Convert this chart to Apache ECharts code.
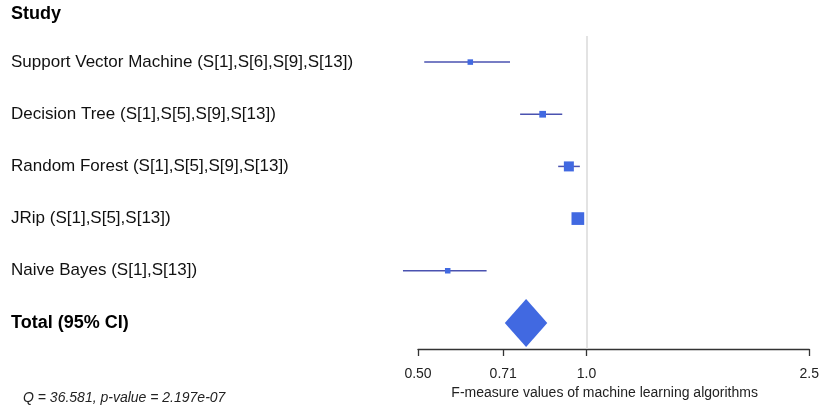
<!DOCTYPE html>
<html><head><meta charset="utf-8">
<script src="https://cdn.jsdelivr.net/npm/echarts@6/dist/echarts.min.js"></script>
<style>html,body{margin:0;padding:0;background:#fff}#c{width:822px;height:410px}</style>
</head><body><div id="c"></div>
<script>
const studies = ['Support Vector Machine (S[1],S[6],S[9],S[13])', 'Decision Tree (S[1],S[5],S[9],S[13])', 'Random Forest (S[1],S[5],S[9],S[13])', 'JRip (S[1],S[5],S[13])', 'Naive Bayes (S[1],S[13])'];
const estimates = [0.62, 0.835, 0.93, 0.965, 0.565];
const lower = [0.513, 0.761, 0.89, 0.945, 0.47];
const upper = [0.73, 0.905, 0.973, 0.985, 0.663];
const weights = [8.3, 12.3, 27.3, 44.0, 8.3];
const totalLabel = 'Total (95% CI)';
const totalEstimate = 0.78;
const totalLower = 0.7145;
const totalUpper = 0.851;
const tickValues = [0.5, 0.71, 1.0, 2.5];
const tickLabels = ['0.50', '0.71', '1.0', '2.5'];
const xTitle = 'F-measure values of machine learning algorithms';
const heterogeneity = 'Q = 36.581, p-value = 2.197e-07';
const headerLabel = 'Study';

const FONT = '"Liberation Sans", Arial, sans-serif';
const lnTicks = tickValues.map(v => Math.log(v));
const sizeK = 12.7 / Math.sqrt(44);

const chart = echarts.init(document.getElementById('c'), null, {renderer: 'canvas'});
chart.setOption({
  animation: false,
  textStyle: {fontFamily: FONT},
  title: {text: headerLabel, left: 6, top: 0, textStyle: {fontFamily: FONT, fontSize: 18, fontWeight: 'bold', color: '#000'}},
  grid: {left: 418, right: 12, top: 36, bottom: 61},
  xAxis: {
    type: 'value', min: Math.log(0.5), max: Math.log(2.5),
    splitLine: {show: false},
    axisLine: {show: true, onZero: false, lineStyle: {color: '#333', width: 1.3}},
    axisTick: {show: true, length: 7, customValues: lnTicks, lineStyle: {color: '#333', width: 1.3}},
    axisLabel: {
      customValues: lnTicks, fontSize: 14, color: '#222', margin: 18, fontFamily: FONT,
      formatter: v => { const i = lnTicks.findIndex(t => Math.abs(t - v) < 1e-6); return i >= 0 ? tickLabels[i] : ''; }
    },
    name: xTitle, nameLocation: 'middle', nameGap: 34,
    nameTextStyle: {fontSize: 14, color: '#222', fontFamily: FONT, padding: [0, 18, 0, 0]}
  },
  yAxis: {
    type: 'category', inverse: true, data: [...studies, totalLabel],
    axisLine: {show: false}, axisTick: {show: false}, splitLine: {show: false},
    axisLabel: {
      align: 'left', margin: 407, fontSize: 17, color: '#111', fontFamily: FONT,
      formatter: v => v === totalLabel ? '{b|' + v + '}' : v,
      rich: {b: {fontWeight: 'bold', fontSize: 18, color: '#000', fontFamily: FONT}}
    }
  },
  graphic: [{type: 'text', left: 23, top: 391, style: {text: heterogeneity, font: 'italic 14px ' + FONT, fill: '#222'}}],
  series: [
    {
      type: 'custom', clip: false,
      data: studies.map((s, i) => [i, Math.log(estimates[i]), Math.log(lower[i]), Math.log(upper[i]), weights[i]]),
      encode: {y: 0, x: [1, 2, 3]},
      renderItem: (params, api) => {
        const y = api.value(0);
        const c = api.coord([api.value(1), y]);
        const l = api.coord([api.value(2), y]);
        const h = api.coord([api.value(3), y]);
        const s = Math.sqrt(api.value(4)) * sizeK;
        return {type: 'group', children: [
          {type: 'line', shape: {x1: l[0], y1: l[1], x2: h[0], y2: h[1]}, style: {stroke: '#4a52b0', lineWidth: 1.5}},
          {type: 'rect', shape: {x: c[0] - s / 2, y: c[1] - s / 2, width: s, height: s}, style: {fill: '#4169E1'}}
        ]};
      },
      markLine: {silent: true, symbol: 'none', label: {show: false}, data: [{xAxis: 0}],
        lineStyle: {color: '#dadada', type: 'solid', width: 1.5}}
    },
    {
      type: 'custom', clip: false,
      data: [[studies.length, Math.log(totalEstimate), Math.log(totalLower), Math.log(totalUpper)]],
      encode: {y: 0, x: [1, 2, 3]},
      renderItem: (params, api) => {
        const y = api.value(0);
        const c = api.coord([api.value(1), y]);
        const l = api.coord([api.value(2), y]);
        const h = api.coord([api.value(3), y]);
        const hh = api.size([0, 1])[1] * 0.46;
        return {type: 'polygon', shape: {points: [[l[0], c[1]], [c[0], c[1] - hh], [h[0], c[1]], [c[0], c[1] + hh]]},
          style: {fill: '#4169E1'}};
      }
    }
  ]
});
</script></body></html>
